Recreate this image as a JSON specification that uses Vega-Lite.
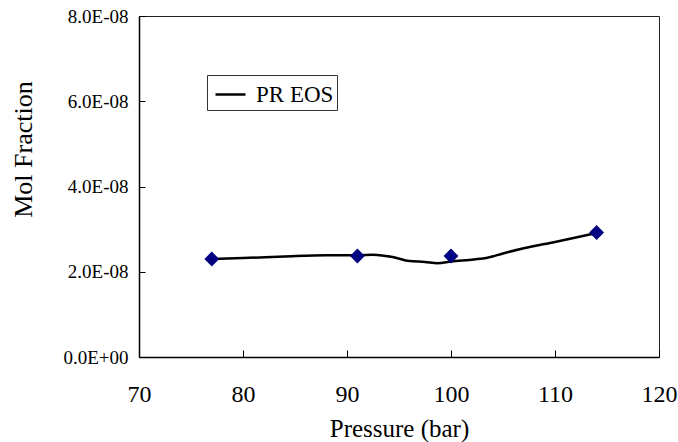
{
  "$schema": "https://vega.github.io/schema/vega-lite/v6.json",
  "width": 520,
  "height": 341,
  "autosize": "none",
  "padding": {"left": 139, "top": 16, "right": 19, "bottom": 85},
  "background": "white",
  "config": {
    "font": "Liberation Serif",
    "view": {"stroke": "#222", "strokeWidth": 1},
    "axis": {
      "grid": false,
      "domainColor": "black",
      "domainWidth": 1.5,
      "tickColor": "black",
      "tickWidth": 1,
      "labelColor": "black",
      "titleColor": "black",
      "titleFontWeight": "normal",
      "labelFont": "Liberation Serif",
      "titleFont": "Liberation Serif"
    }
  },
  "datasets": {
    "curve": [
      {"pressure": 77, "fraction": 2.30e-8, "series": "PR EOS"},
      {"pressure": 80, "fraction": 2.32e-8, "series": "PR EOS"},
      {"pressure": 84, "fraction": 2.36e-8, "series": "PR EOS"},
      {"pressure": 88, "fraction": 2.39e-8, "series": "PR EOS"},
      {"pressure": 91, "fraction": 2.39e-8, "series": "PR EOS"},
      {"pressure": 92.5, "fraction": 2.40e-8, "series": "PR EOS"},
      {"pressure": 94.5, "fraction": 2.34e-8, "series": "PR EOS"},
      {"pressure": 96, "fraction": 2.25e-8, "series": "PR EOS"},
      {"pressure": 97.5, "fraction": 2.23e-8, "series": "PR EOS"},
      {"pressure": 98.7, "fraction": 2.20e-8, "series": "PR EOS"},
      {"pressure": 100, "fraction": 2.24e-8, "series": "PR EOS"},
      {"pressure": 102.2, "fraction": 2.29e-8, "series": "PR EOS"},
      {"pressure": 103.5, "fraction": 2.33e-8, "series": "PR EOS"},
      {"pressure": 105, "fraction": 2.43e-8, "series": "PR EOS"},
      {"pressure": 107, "fraction": 2.55e-8, "series": "PR EOS"},
      {"pressure": 110, "fraction": 2.70e-8, "series": "PR EOS"},
      {"pressure": 114, "fraction": 2.91e-8, "series": "PR EOS"}
    ],
    "points": [
      {"pressure": 77, "fraction": 2.30e-8},
      {"pressure": 91, "fraction": 2.37e-8},
      {"pressure": 100, "fraction": 2.37e-8},
      {"pressure": 114, "fraction": 2.92e-8}
    ]
  },
  "layer": [
    {
      "data": {"name": "curve"},
      "mark": {"type": "line", "interpolate": "monotone", "strokeWidth": 2.5},
      "encoding": {
        "x": {
          "field": "pressure",
          "type": "quantitative",
          "scale": {"domain": [70, 120], "nice": false, "zero": false},
          "axis": {
            "title": "Pressure (bar)",
            "values": [70, 80, 90, 100, 110, 120],
            "tickSize": -7,
            "labelFontSize": 24,
            "labelPadding": 32,
            "labelFlush": false,
            "titleFontSize": 25,
            "titleY": 71,
            "titleBaseline": "middle"
          }
        },
        "y": {
          "field": "fraction",
          "type": "quantitative",
          "scale": {"domain": [0, 8e-8], "nice": false},
          "axis": {
            "title": "Mol Fraction",
            "values": [0, 2e-8, 4e-8, 6e-8, 8e-8],
            "labelExpr": "datum.value == 0 ? '0.0E+00' : format(datum.value / 1e-8, '.1f') + 'E-08'",
            "tickSize": -6,
            "labelFontSize": 19,
            "labelPadding": 17,
            "labelFlush": false,
            "titleFontSize": 26,
            "titleAngle": -90,
            "titleX": -116,
            "titleY": 133,
            "titleAlign": "center",
            "titleBaseline": "middle"
          }
        },
        "color": {
          "field": "series",
          "type": "nominal",
          "scale": {"domain": ["PR EOS"], "range": ["black"]},
          "legend": {
            "title": null,
            "orient": "none",
            "legendX": 68,
            "legendY": 59,
            "strokeColor": "#333",
            "fillColor": "white",
            "padding": 3,
            "cornerRadius": 0,
            "symbolType": "stroke",
            "symbolSize": 900,
            "symbolStrokeWidth": 2.5,
            "symbolStrokeColor": "black",
            "symbolOffset": 4,
            "labelFontSize": 23,
            "labelFont": "Liberation Serif",
            "labelColor": "black",
            "labelOffset": 9
          }
        }
      }
    },
    {
      "data": {"name": "points"},
      "mark": {"type": "point", "shape": "diamond", "filled": true, "size": 220, "color": "#000080", "opacity": 1},
      "encoding": {
        "x": {"field": "pressure", "type": "quantitative"},
        "y": {"field": "fraction", "type": "quantitative"}
      }
    }
  ]
}
